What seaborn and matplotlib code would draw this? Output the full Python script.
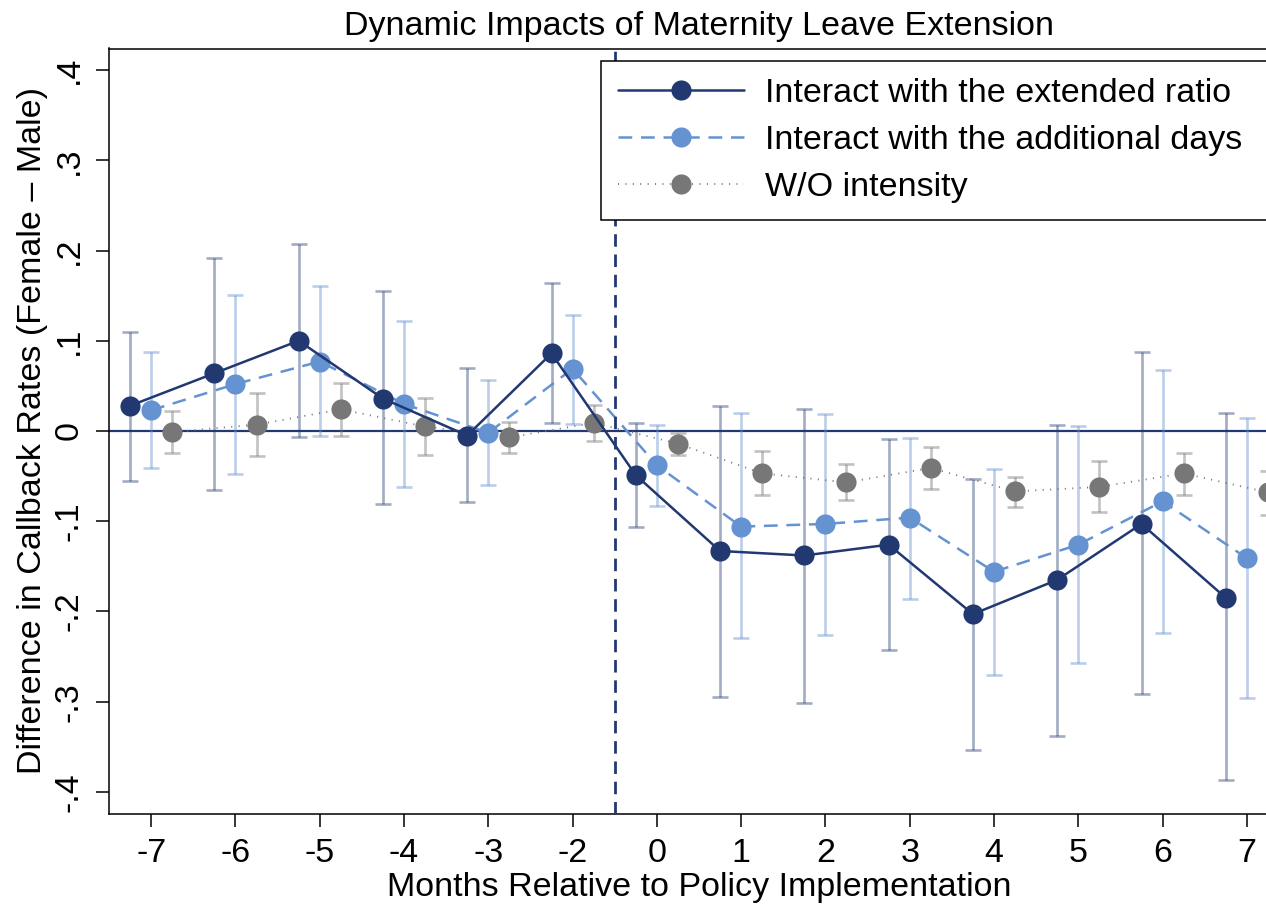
import matplotlib
matplotlib.use("Agg")
import matplotlib.pyplot as plt
import pandas
import seaborn

months = ["-7", "-6", "-5", "-4", "-3", "-2", "0", "1", "2", "3", "4", "5", "6", "7"]

ratio_coef = [0.028, 0.064, 0.100, 0.036, -0.005, 0.086, -0.049, -0.133, -0.138, -0.126, -0.203, -0.165, -0.103, -0.185]
ratio_lo = [-0.055, -0.065, -0.007, -0.081, -0.079, 0.009, -0.106, -0.295, -0.301, -0.243, -0.354, -0.338, -0.292, -0.387]
ratio_hi = [0.110, 0.192, 0.207, 0.155, 0.070, 0.164, 0.009, 0.028, 0.024, -0.009, -0.053, 0.007, 0.088, 0.020]

days_coef = [0.023, 0.052, 0.077, 0.030, -0.002, 0.069, -0.038, -0.106, -0.103, -0.096, -0.156, -0.126, -0.078, -0.141]
days_lo = [-0.041, -0.048, -0.005, -0.062, -0.060, 0.008, -0.083, -0.230, -0.226, -0.186, -0.271, -0.257, -0.224, -0.296]
days_hi = [0.088, 0.151, 0.161, 0.122, 0.056, 0.129, 0.007, 0.020, 0.019, -0.008, -0.042, 0.006, 0.068, 0.014]

plain_coef = [-0.001, 0.007, 0.024, 0.005, -0.007, 0.009, -0.014, -0.047, -0.057, -0.041, -0.067, -0.062, -0.047, -0.068]
plain_lo = [-0.024, -0.028, -0.006, -0.027, -0.024, -0.011, -0.027, -0.071, -0.076, -0.064, -0.084, -0.090, -0.071, -0.093]
plain_hi = [0.022, 0.042, 0.053, 0.037, 0.010, 0.029, -0.002, -0.022, -0.037, -0.018, -0.051, -0.033, -0.024, -0.044]

series_names = ["Interact with the extended ratio", "Interact with the additional days", "W/O intensity"]
y_ticks = [0.4, 0.3, 0.2, 0.1, 0.0, -0.1, -0.2, -0.3, -0.4]
y_tick_labels = [".4", ".3", ".2", ".1", "0", "-.1", "-.2", "-.3", "-.4"]

# build one long table, each series shifted sideways a bit
frames = []
for name, offset, coef, lo, hi in zip(
    series_names,
    [-0.25, 0.0, 0.25],
    [ratio_coef, days_coef, plain_coef],
    [ratio_lo, days_lo, plain_lo],
    [ratio_hi, days_hi, plain_hi],
):
    df = pandas.DataFrame({"month": months, "coef": coef, "lo": lo, "hi": hi})
    df["pos"] = [i + offset for i in range(len(months))]
    df["series"] = name
    frames.append(df)
data = pandas.concat(frames, ignore_index=True)

seaborn.set_theme(style="ticks", rc={
    "axes.edgecolor": "black",
    "axes.linewidth": 1.1,
    "axes.labelcolor": "black",
    "text.color": "black",
    "xtick.major.size": 9.5,
    "ytick.major.size": 9.5,
    "xtick.major.width": 1.1,
    "ytick.major.width": 1.1,
    "xtick.major.pad": 8,
    "ytick.major.pad": 8,
    "xtick.color": "black",
    "ytick.color": "black",
})
plt.rcParams["font.family"] = ["Liberation Sans", "DejaVu Sans"]

FS = 24.5

styles = {
    series_names[0]: dict(color="#213871", ecolor=(0.13, 0.22, 0.44, 0.42), ls="-", lw=1.8, z=4),
    series_names[1]: dict(color="#6592d0", ecolor=(0.40, 0.57, 0.82, 0.45), ls=(0, (5.5, 3.5)), lw=1.8, z=3),
    series_names[2]: dict(color="#777777", ecolor=(0.47, 0.47, 0.47, 0.45), ls=(0, (0.6, 3.5)), lw=1.3, z=2),
}

fig = plt.figure(figsize=(12.66, 9.06), dpi=100)
ax = fig.add_axes([109 / 1266, 1 - 813.5 / 906, 1180 / 1266, 765 / 906])

ax.axhline(0, color="#213871", lw=1.6, zorder=1)
ax.axvline(5.5, color="#213871", lw=2.0, ls=(0, (4.5, 2.8)), zorder=5)

for name in series_names:
    sub = data[data["series"] == name]
    st = styles[name]
    ax.errorbar(sub["pos"], sub["coef"], yerr=[sub["coef"] - sub["lo"], sub["hi"] - sub["coef"]],
                fmt="none", ecolor=st["ecolor"], elinewidth=1.9, capsize=6, capthick=1.9,
                zorder=1.5, label="_nolegend_")
    seaborn.lineplot(data=sub, x="pos", y="coef", ax=ax, color=st["color"], linestyle=st["ls"],
                     linewidth=st["lw"], marker="o", markersize=14.5, markeredgewidth=0,
                     label=name, zorder=st["z"], sort=False)

ax.set_xlim(-0.5, 13.5)
ax.set_ylim(-0.424, 0.424)
ax.set_xticks(range(len(months)))
ax.set_xticklabels(months, fontsize=FS)
ax.set_yticks(y_ticks)
ax.set_yticklabels(y_tick_labels, fontsize=FS, rotation=90, va="center")
ax.set_xlabel("Months Relative to Policy Implementation", fontsize=FS, labelpad=2)
ax.set_ylabel("Difference in Callback Rates (Female \u2013 Male)", fontsize=FS, labelpad=4)
ax.set_title("Dynamic Impacts of Maternity Leave Extension", fontsize=FS, pad=10)

handles, labels = ax.get_legend_handles_labels()
leg = ax.legend(handles, labels, loc="upper left", bbox_to_anchor=(600.7 / 1266, 1 - 60.7 / 906, 700 / 1266, 0),
                bbox_transform=fig.transFigure, mode="expand", fontsize=FS, frameon=True, fancybox=False,
                edgecolor="black", framealpha=1, handlelength=3.7, handletextpad=0.6, borderpad=0.52,
                labelspacing=0.46, borderaxespad=0)
leg.get_frame().set_linewidth(1.1)

fig.savefig("out.png", dpi=100)
